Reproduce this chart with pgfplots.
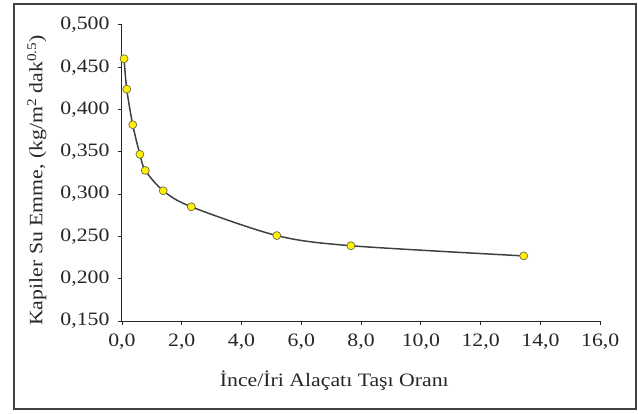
\documentclass[border=0pt]{standalone}
\usepackage{fontspec}
\setmainfont{Liberation Serif}[FakeStretch=1.15]
\usepackage{pgfplots}
\pgfplotsset{compat=1.18}
\begin{document}
\begin{tikzpicture}
\begin{axis}[
  scale only axis,
  width=478bp, height=296bp,
  xmin=0, xmax=16, ymin=0.15, ymax=0.5,
  axis x line*=bottom, axis y line*=left,
  axis line style={black!85, line width=1pt},
  xtick={0,2,...,16},
  ytick={0.15,0.2,...,0.51},
  tick align=outside,
  major tick length=4bp,
  tick style={black!85, line width=0.8pt},
  /pgf/number format/assume math mode=true,
  xticklabel style={font=\fontsize{19}{22}\selectfont, text=black!85, /pgf/number format/fixed, /pgf/number format/fixed zerofill, /pgf/number format/precision=1, /pgf/number format/use comma, yshift=-5bp},
  yticklabel style={font=\fontsize{19}{22}\selectfont, text=black!85, /pgf/number format/fixed, /pgf/number format/fixed zerofill, /pgf/number format/precision=3, /pgf/number format/use comma, xshift=-5bp},
  label style={font=\fontsize{19}{22}\selectfont, text=black!85},
  xlabel={İnce/İri Alaçatı Taşı Oranı},
  ylabel={Kapiler Su Emme, (kg/m\textsuperscript{2} dak\textsuperscript{0.5})},
  xlabel style={at={(rel axis cs:0.444,-0.222)}, anchor=base},
  ylabel style={at={(rel axis cs:-0.178,0.475)}, anchor=center},
  clip=false,
]
\addplot[color=black!75, line width=1.5pt, smooth, tension=0.5,
  mark=*, mark size=4bp,
  mark options={fill=yellow, draw=black!50!yellow!70!black, line width=0.7pt}]
  coordinates {
  (0.07,0.460) (0.16,0.424) (0.36,0.382) (0.60,0.347) (0.78,0.328)
  (1.38,0.304) (2.32,0.285) (5.18,0.251) (7.66,0.239) (13.44,0.227)
  };
\path (rel axis cs:-0.255,-0.311) rectangle (rel axis cs:1.079,1.084);
\draw[black!75, line width=2pt] (rel axis cs:-0.226,-0.298) rectangle (rel axis cs:1.075,1.071);
\end{axis}
\end{tikzpicture}
\end{document}
